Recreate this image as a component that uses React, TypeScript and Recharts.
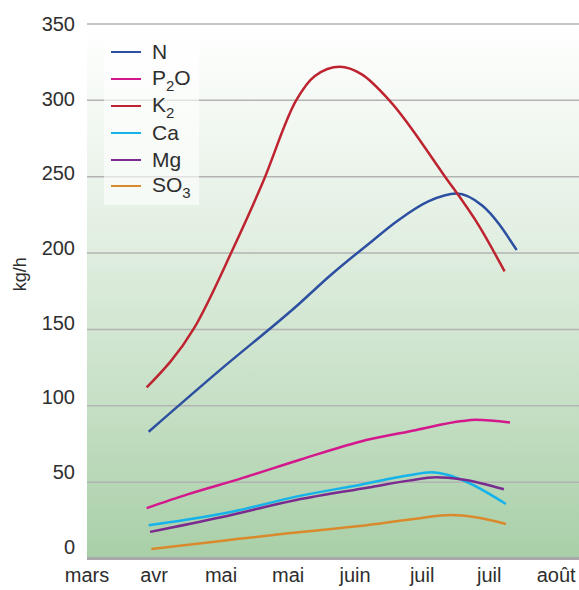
import { LineChart, Line, XAxis, YAxis, CartesianGrid, Label } from "recharts";

const months = ["mars", "avr", "mai", "mai", "juin", "juil", "juil", "août"];
const monthTicks = [0, 1, 2, 3, 4, 5, 6, 7];
const yTicks = [0, 50, 100, 150, 200, 250, 300, 350];

// t = position along the month axis, v = kg/h
const nData = [
  { t: 0.92, v: 83 }, { t: 2.0, v: 124 }, { t: 3.17, v: 167 }, { t: 3.62, v: 185 },
  { t: 4.2, v: 206 }, { t: 4.66, v: 222 }, { t: 5.1, v: 234 }, { t: 5.51, v: 239 },
  { t: 5.9, v: 231 }, { t: 6.41, v: 202 },
];
const p2oData = [
  { t: 0.89, v: 33 }, { t: 1.5, v: 42 }, { t: 2.27, v: 52 }, { t: 3.2, v: 65 },
  { t: 4.07, v: 76.5 }, { t: 4.9, v: 84 }, { t: 5.6, v: 90 }, { t: 5.8, v: 90.8 },
  { t: 6.31, v: 89 },
];
const k2Data = [
  { t: 0.89, v: 112 }, { t: 1.6, v: 151 }, { t: 2.17, v: 202 }, { t: 2.62, v: 246 },
  { t: 3.12, v: 300 }, { t: 3.4, v: 316 }, { t: 3.77, v: 322 }, { t: 4.1, v: 317 },
  { t: 4.51, v: 300 }, { t: 5.31, v: 252 }, { t: 5.86, v: 217 }, { t: 6.23, v: 188 },
];
const caData = [
  { t: 0.92, v: 21.7 }, { t: 1.5, v: 25.5 }, { t: 2.2, v: 31 }, { t: 3.12, v: 40.5 },
  { t: 4.1, v: 48.5 }, { t: 4.8, v: 54.5 }, { t: 5.14, v: 56.5 }, { t: 5.4, v: 54.5 },
  { t: 5.6, v: 51.4 }, { t: 6.25, v: 35.7 },
];
const mgData = [
  { t: 0.94, v: 17.4 }, { t: 2.0, v: 27 }, { t: 3.12, v: 38.3 }, { t: 4.2, v: 46.5 },
  { t: 4.8, v: 51 }, { t: 5.21, v: 53.2 }, { t: 5.6, v: 51.7 }, { t: 6.22, v: 45.3 },
];
const so3Data = [
  { t: 0.96, v: 6.2 }, { t: 2.0, v: 11.5 }, { t: 3.0, v: 16.5 }, { t: 4.07, v: 21.3 },
  { t: 4.9, v: 26 }, { t: 5.43, v: 28.5 }, { t: 5.8, v: 27 }, { t: 6.25, v: 22.6 },
];

const series = [
  { key: "N", main: "N", sub: "", after: "", color: "#2d4fa1", data: nData },
  { key: "P2O", main: "P", sub: "2", after: "O", color: "#d4178c", data: p2oData },
  { key: "K2", main: "K", sub: "2", after: "", color: "#be2430", data: k2Data },
  { key: "Ca", main: "Ca", sub: "", after: "", color: "#16b2ea", data: caData },
  { key: "Mg", main: "Mg", sub: "", after: "", color: "#7b2b8f", data: mgData },
  { key: "SO3", main: "SO", sub: "3", after: "", color: "#d98a2c", data: so3Data },
];

const font = '"Liberation Sans", Arial, sans-serif';

function YTick({ x, y, payload }: any) {
  // labels sit a little above their gridlines, more so near the bottom
  const shift = -((350 - payload.value) / 350) * 12;
  return (
    <text x={x} y={y + shift} dy="0.35em" textAnchor="end" fontSize={20} fill="#2e2e2e" fontFamily={font}>
      {payload.value}
    </text>
  );
}

function LegendBox() {
  return (
    <div
      style={{
        position: "absolute",
        left: 104,
        top: 39,
        width: 95,
        padding: "0 0 5px 0",
        background: "rgba(255,255,255,0.6)",
        fontFamily: font,
        fontSize: 21,
        color: "#2e2e2e",
      }}
    >
      {series.map((s) => (
        <div key={s.key} style={{ display: "flex", alignItems: "center", height: 26.8 }}>
          <span style={{ width: 30, height: 2, background: s.color, marginLeft: 7, marginRight: 11 }} />
          <span style={{ lineHeight: "22px" }}>
            {s.main}
            {s.sub && <span style={{ fontSize: 15, position: "relative", top: 6 }}>{s.sub}</span>}
            {s.after}
          </span>
        </div>
      ))}
    </div>
  );
}

export default function App() {
  return (
    <div style={{ position: "absolute", left: 0, top: 0, width: 579, height: 590, background: "#fff" }}>
      <LineChart width={579} height={590} margin={{ top: 24, right: 0, bottom: 0, left: 0 }}>
        <defs>
          <linearGradient id="plotBg" x1="0" y1="0" x2="0" y2="1">
            <stop offset="0%" stopColor="#ffffff" />
            <stop offset="35%" stopColor="#e6f1e6" />
            <stop offset="70%" stopColor="#c7e0c6" />
            <stop offset="100%" stopColor="#a8cfa7" />
          </linearGradient>
        </defs>
        <CartesianGrid vertical={false} stroke="#b3b3b3" strokeWidth={1.5} fill="url(#plotBg)" />
        <XAxis
          type="number"
          dataKey="t"
          domain={[0, 7.34]}
          ticks={monthTicks}
          tickFormatter={(t: number) => months[t]}
          allowDataOverflow
          height={31.5}
          tickSize={0}
          tickMargin={9}
          axisLine={{ stroke: "#a9a9a9", strokeWidth: 3 }}
          tick={{ fontSize: 20, fill: "#2e2e2e", fontFamily: font }}
        />
        <YAxis
          type="number"
          dataKey="v"
          domain={[0, 350]}
          ticks={yTicks}
          width={87}
          tickSize={0}
          tickMargin={12}
          axisLine={false}
          tickLine={false}
          tick={<YTick />}
        >
          <Label
            value="kg/h"
            angle={-90}
            position="insideLeft"
            offset={20}
            style={{ fontSize: 18, fill: "#2e2e2e", fontFamily: font }}
          />
        </YAxis>
        {series.map((s) => (
          <Line
            key={s.key}
            data={s.data}
            dataKey="v"
            name={s.key}
            type="monotone"
            stroke={s.color}
            strokeWidth={2.5}
            dot={false}
            activeDot={false}
            isAnimationActive={false}
          />
        ))}
      </LineChart>
      <LegendBox />
    </div>
  );
}
